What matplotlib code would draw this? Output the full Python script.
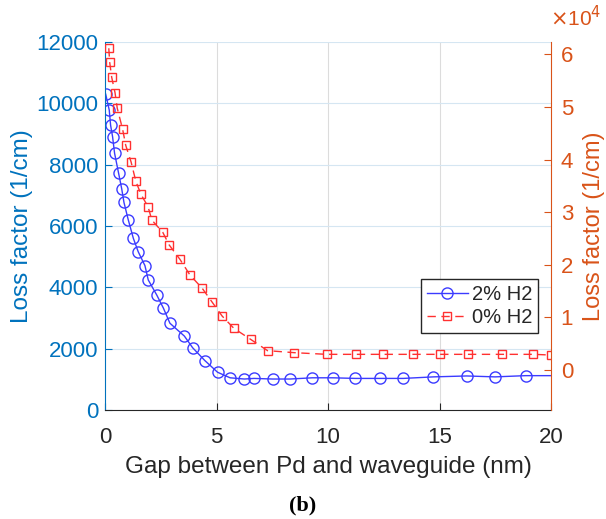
import matplotlib
matplotlib.use("Agg")
import matplotlib.pyplot as plt
import numpy as np

# 2% H2 (left axis)
gap_2 = [0.03, 0.19, 0.25, 0.34, 0.43, 0.61, 0.75, 0.85, 1.04, 1.27, 1.49, 1.79, 1.94,
         2.32, 2.62, 2.91, 3.56, 3.93, 4.48, 5.05, 5.61, 6.25, 6.68, 7.52, 8.29,
         9.30, 10.21, 11.23, 12.33, 13.38, 14.72, 16.22, 17.49, 18.86, 20.3]
loss_2 = [10300, 9780, 9290, 8910, 8370, 7720, 7210, 6770, 6210, 5600, 5160, 4710, 4240,
          3750, 3320, 2830, 2410, 2030, 1610, 1230, 1050, 1010, 1030, 1010, 1010,
          1050, 1050, 1030, 1030, 1030, 1080, 1110, 1080, 1120, 1120]

# 0% H2 (right axis, x1e4)
gap_0 = [0.17, 0.21, 0.30, 0.45, 0.55, 0.79, 0.93, 1.17, 1.38, 1.61, 1.93, 2.10,
         2.59, 2.88, 3.36, 3.81, 4.36, 4.81, 5.25, 5.78, 6.53, 7.29, 8.48, 9.94,
         11.24, 12.48, 13.83, 15.02, 16.29, 17.79, 19.21, 19.99]
loss_0 = [61160, 58500, 55650, 52700, 49750, 45760, 42700, 39540, 35930, 33400, 31050, 28500,
          26180, 23760, 21040, 18060, 15530, 12870, 10270, 7920, 5830, 3680, 3300, 2980,
          2980, 2980, 2980, 2980, 2980, 2980, 2980, 2850]

left_ticks = [0, 2000, 4000, 6000, 8000, 10000, 12000]
right_ticks = [0, 10000, 20000, 30000, 40000, 50000, 60000]
x_ticks = [0, 5, 10, 15, 20]

plt.rcParams['font.family'] = ['Liberation Sans', 'DejaVu Sans']

c_left = '#0072BD'
c_right = '#D95319'
c_dark = '#262626'

fig = plt.figure(figsize=(6.06, 5.19), dpi=100)
ax = fig.add_axes([105/606, 1-410/519, 446/606, 368/519])
ax2 = ax.twinx()

l1, = ax.plot(gap_2, loss_2, '-o', color='#3b3bff', mfc='none', ms=8, mew=1.0, lw=1.0, label='2% H2')
l2, = ax2.plot(gap_0, loss_0, '--s', color='#ff3030', mfc='none', ms=6, mew=1.0, lw=1.0,
               dashes=(6, 4), label='0% H2')

ax.set_xlim(0, 20)
ax.set_ylim(0, 12000)
ax2.set_ylim(-7600, 62350)
ax.set_xticks(x_ticks)
ax.set_yticks(left_ticks)
ax2.set_yticks(right_ticks)
ax2.set_yticklabels([str(int(v/10000)) for v in right_ticks])

ax.grid(False)
for t in [5, 10, 15]:
    ax.axvline(t, color='#dcdcdc', lw=0.8, zorder=0)
for t in left_ticks:
    ax.axhline(t, color='#d5e6f2', lw=0.8, zorder=0)

for a in (ax, ax2):
    a.spines['top'].set_visible(False)
ax.spines['left'].set_color(c_left)
ax.spines['right'].set_visible(False)
ax2.spines['left'].set_visible(False)
ax2.spines['right'].set_color(c_right)
ax.spines['bottom'].set_color(c_dark)
ax2.spines['bottom'].set_visible(False)

ax.tick_params(axis='y', direction='in', colors=c_left, labelsize=16, length=5, pad=5)
ax.tick_params(axis='x', direction='in', colors=c_dark, labelsize=16, length=5, pad=12)
ax2.tick_params(axis='y', direction='in', colors=c_right, labelsize=16, length=5, pad=7)

ax.set_ylabel('Loss factor (1/cm)', color=c_left, fontsize=17.5, labelpad=2)
ax2.set_ylabel('Loss factor (1/cm)', color=c_right, fontsize=17, labelpad=7)
ax.set_xlabel('Gap between Pd and waveguide (nm)', color=c_dark, fontsize=17.5, labelpad=6)

fig.text(550/606, 1-18/519, r'$\times$10$^4$', color=c_right, fontsize=15, ha='left', va='center')

leg = ax2.legend(handles=[l1, l2], loc='lower right', bbox_to_anchor=(538/606, 1-333/519),
                 bbox_transform=fig.transFigure, fontsize=14.5, frameon=True, fancybox=False,
                 edgecolor=c_dark, framealpha=1, borderpad=0.3, handlelength=2.0,
                 handletextpad=0.2, labelspacing=0.2, borderaxespad=0)
leg.get_frame().set_linewidth(1.0)
for t in leg.get_texts():
    t.set_color(c_dark)

fig.text(303/606, 1-505/519, '(b)', fontsize=16, fontweight='bold',
         family=['Liberation Serif'], ha='center', va='center')

fig.savefig('out.png', dpi=100)
